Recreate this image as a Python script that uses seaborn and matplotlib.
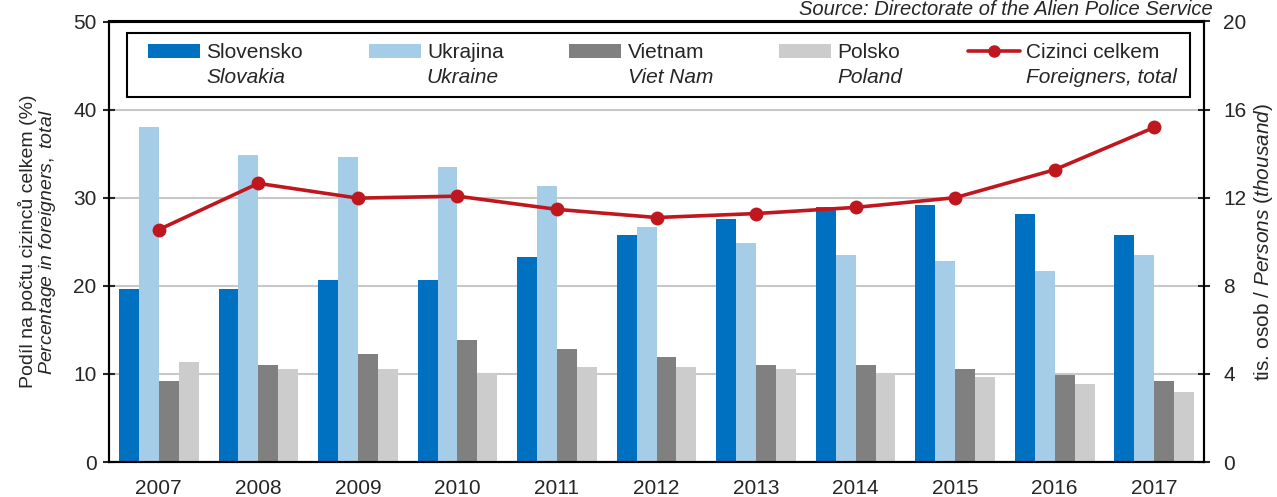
import matplotlib
matplotlib.use("Agg")
import matplotlib.pyplot as plt
from matplotlib.patches import Patch, Rectangle
from matplotlib.lines import Line2D
import numpy as np
import pandas as pd
import seaborn as sns

years = ["2007", "2008", "2009", "2010", "2011", "2012", "2013", "2014", "2015", "2016", "2017"]
slovensko = [19.6, 19.6, 20.7, 20.7, 23.3, 25.8, 27.6, 28.9, 29.2, 28.1, 25.8]
ukrajina = [38.0, 34.9, 34.6, 33.5, 31.3, 26.7, 24.9, 23.5, 22.8, 21.7, 23.5]
vietnam = [9.2, 11.0, 12.3, 13.9, 12.8, 11.9, 11.0, 11.0, 10.5, 9.9, 9.2]
polsko = [11.4, 10.5, 10.5, 10.1, 10.8, 10.8, 10.5, 10.1, 9.6, 8.9, 8.0]
cizinci_celkem = [10.55, 12.65, 11.98, 12.07, 11.47, 11.1, 11.28, 11.56, 12.0, 13.27, 15.19]

countries_cz = ["Slovensko", "Ukrajina", "Vietnam", "Polsko"]
countries_en = ["Slovakia", "Ukraine", "Viet Nam", "Poland"]
colors = ["#0070c0", "#a6cde8", "#808080", "#cccccc"]
line_color = "#c0171f"

df = pd.DataFrame({"year": years * 4,
                   "country": sum([[c] * len(years) for c in countries_cz], []),
                   "share": slovensko + ukrajina + vietnam + polsko})

sns.set_style("white")
plt.rcParams["font.family"] = ["Liberation Sans", "DejaVu Sans"]
plt.rcParams["mathtext.fontset"] = "custom"
plt.rcParams["mathtext.rm"] = "Liberation Sans"
plt.rcParams["mathtext.it"] = "Liberation Sans:italic"

W, H = 1277, 497
fig = plt.figure(figsize=(W / 100, H / 100), dpi=100)
ax = fig.add_axes([109 / W, 1 - 462 / H, (1204 - 109) / W, (462 - 21.5) / H])

sns.barplot(data=df, x="year", y="share", hue="country", palette=colors,
            saturation=1, width=0.8, linewidth=0, ax=ax, legend=False)
ax.set_ylim(0, 50)
ax.set_xlim(-0.5, len(years) - 0.5)
ax.set_yticks(range(0, 51, 10))
ax.grid(axis="y", color="#c8c8c8", linewidth=1.5, zorder=0)
ax.set_axisbelow(True)
ax.set_xlabel("")
ax.set_ylabel("Podíl na počtu cizinců celkem (%)\n$\\it{Percentage\\ in\\ foreigners,\\ total}$",
              fontsize=14, labelpad=11, linespacing=1.0)
ax.tick_params(axis="y", direction="inout", length=8, width=1.5, labelsize=15, pad=5)
ax.tick_params(axis="x", which="major", length=0, labelsize=15, pad=12)
ax.set_xticks(np.arange(-0.5, len(years), 1), minor=True)
ax.tick_params(axis="x", which="minor", direction="out", length=5, width=1.5)
for s in ax.spines.values():
    s.set_color("black")
    s.set_linewidth(1.5)

ax2 = ax.twinx()
sns.lineplot(x=np.arange(len(years)), y=cizinci_celkem, color=line_color, linewidth=2.6,
             marker="o", markersize=10, markeredgewidth=0, ax=ax2)
ax2.set_ylim(0, 20)
ax2.set_yticks(range(0, 21, 4))
ax2.set_xlim(-0.5, len(years) - 0.5)
ax2.tick_params(axis="y", direction="inout", length=8, width=1.5, labelsize=15, pad=10)
ax2.set_ylabel("tis. osob / $\\it{Persons\\ (thousand)}$", fontsize=15, labelpad=4)
for s in ax2.spines.values():
    s.set_color("black")
    s.set_linewidth(1.5)

# legend: first row Czech names with handles, second row English in italics
blank = Patch(facecolor="none", edgecolor="none")
handles, labels = [], []
for c, cz, en in zip(colors, countries_cz, countries_en):
    handles += [Patch(facecolor=c, edgecolor="none"), blank]
    labels += [cz, en]
handles += [Line2D([], [], color=line_color, linewidth=2.6, marker="o", markersize=8), blank]
labels += ["Cizinci celkem", "Foreigners, total"]
leg = ax2.legend(handles, labels, ncol=5, loc="upper left",
                 bbox_to_anchor=(148 / W, 1 - 43 / H), bbox_transform=fig.transFigure,
                 fontsize=15, frameon=False,
                 handlelength=2.5, handleheight=0.65, handletextpad=0.3,
                 columnspacing=3.15, labelspacing=0.3, borderpad=0, borderaxespad=0)
for i, t in enumerate(leg.get_texts()):
    if i % 2 == 1:
        t.set_fontstyle("italic")
fig.add_artist(Rectangle((127 / W, 1 - 97 / H), (1190 - 127) / W, 64 / H,
                         transform=fig.transFigure, fill=False, edgecolor="black",
                         linewidth=1.5))

fig.text(1213 / W, 1 - 15 / H, "Source: Directorate of the Alien Police Service",
         ha="right", va="baseline", fontsize=14.5, style="italic")

fig.savefig("out.png", dpi=100)
